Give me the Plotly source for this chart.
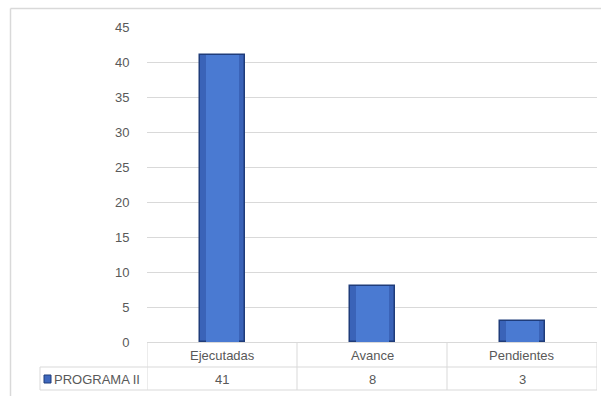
import plotly.graph_objects as go

categories = ["Ejecutadas", "Avance", "Pendientes"]
values = [41, 8, 3]
series_name = "PROGRAMA II"
y_ticks = [0, 5, 10, 15, 20, 25, 30, 35, 40, 45]

W, H = 601, 396
L, R, T, B = 147, 4, 27, 54
pw, ph = W - L - R, H - T - B

def px_x(p):
    return (p - L) / pw

def px_y(p):
    return (H - B - p) / ph

FONT = "Liberation Sans"
TXT = "#595959"
LINE = "#d9d9d9"
FS = 13

fig = go.Figure()
fig.add_trace(go.Bar(
    x=categories, y=values, width=0.3,
    marker=dict(color="#3A63B8", line=dict(color="#1F3C7A", width=1.5)),
    hoverinfo="skip", showlegend=False,
))
fig.add_trace(go.Bar(
    x=categories, y=values, width=0.22,
    marker=dict(color="#4A7AD2", line=dict(width=0)),
    hoverinfo="skip", showlegend=False,
))

shapes = []
# outer chart border (top and left edges visible)
shapes.append(dict(type="line", xref="paper", yref="paper",
                   x0=px_x(10.5), x1=px_x(601), y0=px_y(8.5), y1=px_y(8.5),
                   line=dict(color=LINE, width=1.5)))
shapes.append(dict(type="line", xref="paper", yref="paper",
                   x0=px_x(10.5), x1=px_x(10.5), y0=px_y(8.5), y1=px_y(396),
                   line=dict(color=LINE, width=1.5)))
# table lines
y_top, y_mid, y_bot = px_y(342), px_y(367), px_y(390)
x_left = px_x(40)
x_right = px_x(597)
shapes.append(dict(type="line", xref="paper", yref="paper", x0=x_left, x1=x_right, y0=y_mid, y1=y_mid,
                   line=dict(color=LINE, width=1)))
shapes.append(dict(type="line", xref="paper", yref="paper", x0=x_left, x1=x_right, y0=y_bot, y1=y_bot,
                   line=dict(color=LINE, width=1)))
shapes.append(dict(type="line", xref="paper", yref="paper", x0=x_left, x1=x_left, y0=y_mid, y1=y_bot,
                   line=dict(color=LINE, width=1)))
for i in range(len(categories) + 1):
    shapes.append(dict(type="line", xref="x", yref="paper", x0=i - 0.5, x1=i - 0.5, y0=y_top, y1=y_bot,
                       line=dict(color=LINE, width=1)))
# legend key
shapes.append(dict(type="rect", xref="paper", yref="paper",
                   x0=px_x(44), x1=px_x(51), y0=px_y(383), y1=px_y(375),
                   fillcolor="#3F68BE", line=dict(color="#1F3C7A", width=1)))

annotations = []
for c, v in zip(categories, values):
    annotations.append(dict(x=c, y=px_y(355), xref="x", yref="paper", text=c, showarrow=False,
                            xanchor="center", yanchor="middle",
                            font=dict(family=FONT, size=FS, color=TXT)))
    annotations.append(dict(x=c, y=px_y(379), xref="x", yref="paper", text=str(v), showarrow=False,
                            xanchor="center", yanchor="middle",
                            font=dict(family=FONT, size=FS, color=TXT)))
annotations.append(dict(x=px_x(52), y=px_y(379), xref="paper", yref="paper", text=series_name,
                        showarrow=False, xanchor="left", yanchor="middle",
                        font=dict(family=FONT, size=FS, color=TXT)))

fig.update_layout(
    width=W, height=H,
    margin=dict(l=L, r=R, t=T, b=B),
    paper_bgcolor="white", plot_bgcolor="white",
    barmode="overlay", bargap=0,
    font=dict(family=FONT, size=FS, color=TXT),
    shapes=shapes, annotations=annotations,
)
fig.update_xaxes(type="category", range=[-0.5, 2.5], showticklabels=False, showgrid=False,
                 showline=True, linecolor=LINE, linewidth=1, zeroline=False)
fig.update_yaxes(range=[0, 45], tickvals=y_ticks, showgrid=True, gridcolor=LINE, gridwidth=1,
                 zeroline=False, showline=False, ticks="outside", ticklen=14, tickcolor="rgba(0,0,0,0)",
                 tickfont=dict(family=FONT, size=FS, color=TXT))

fig.write_html("out.html")
